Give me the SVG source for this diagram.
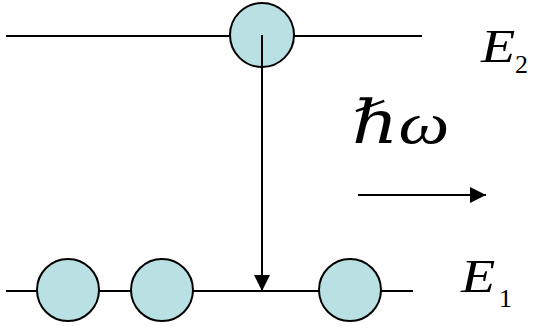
<svg xmlns="http://www.w3.org/2000/svg" width="534" height="326" viewBox="0 0 534 326">
<defs>
<style>
.lvl{stroke:#000;stroke-width:2;fill:none}
.atom{fill:#B9E0E2;stroke:#000;stroke-width:2}
.conn{stroke:#000;stroke-width:2;fill:none}
.lab{font-family:"Liberation Serif","Times New Roman",serif;font-style:italic;fill:#000}
.sub{font-family:"Liberation Serif","Times New Roman",serif;fill:#000}
</style>
<marker id="ah" viewBox="0 0 16 16" refX="16" refY="8" markerWidth="16" markerHeight="16" markerUnits="userSpaceOnUse" orient="auto">
<path d="M0,0 L16,8 L0,16 Z" fill="#000"/>
</marker>
</defs>
<g id="level-E2"><line class="lvl" x1="6" y1="36" x2="422" y2="36"/></g>
<g id="level-E1"><line class="lvl" x1="6" y1="291" x2="413" y2="291"/></g>
<g id="atom-top"><circle class="atom" cx="262" cy="35" r="32"/></g>
<g id="atom-b1"><circle class="atom" cx="68" cy="290" r="31"/></g>
<g id="atom-b2"><circle class="atom" cx="162" cy="290" r="31"/></g>
<g id="atom-b3"><circle class="atom" cx="350" cy="290" r="31"/></g>
<g id="connectors">
<line class="conn" x1="262" y1="35" x2="262" y2="291" marker-end="url(#ah)"/>
<line class="conn" x1="358" y1="195" x2="486" y2="195" marker-end="url(#ah)"/>
</g>
<g id="label-E2"><text class="lab" x="0" y="0" font-size="46" transform="translate(481,62) scale(1.22,1)">E</text><text class="sub" x="515" y="73" font-size="26">2</text></g>
<g id="label-E1"><text class="lab" x="0" y="0" font-size="46" transform="translate(461,292) scale(1.22,1)">E</text><text class="sub" x="499" y="307" font-size="26">1</text></g>
<g id="label-hw"><text class="lab" x="0" y="0" font-size="60" transform="translate(352,143) scale(1.2,1)"><tspan style="font-family:'DejaVu Serif',serif">ℏ</tspan>ω</text></g>
</svg>
